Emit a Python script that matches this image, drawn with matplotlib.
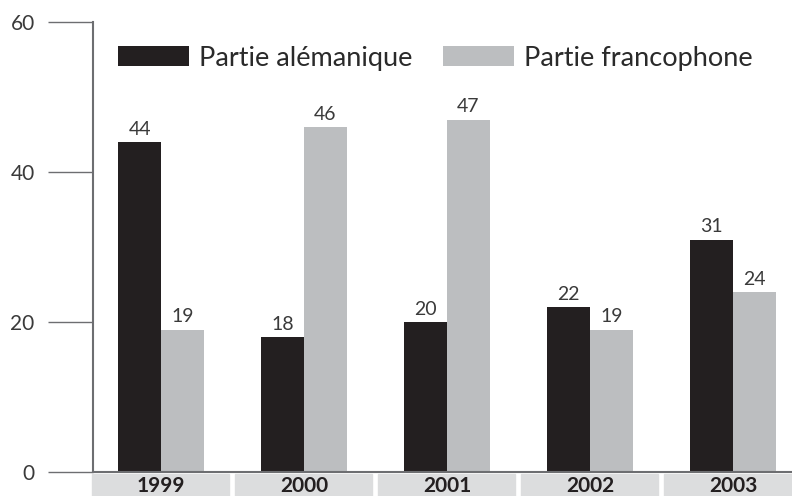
import numpy as np
import matplotlib
matplotlib.use("Agg")
import matplotlib.pyplot as plt
from matplotlib.patches import Rectangle

plt.rcParams['font.family'] = ['Lato', 'DejaVu Sans']

# data
years = ['1999', '2000', '2001', '2002', '2003']
alemanique = [44, 18, 20, 22, 31]
francophone = [19, 46, 47, 19, 24]

black = '#231f20'
grey = '#bcbec0'
box_grey = '#dcddde'
axis_col = '#6d6e71'

fig = plt.figure(figsize=(7.92, 4.96), dpi=100)
ax = fig.add_axes([93 / 792, 24 / 496, 699 / 792, 450 / 496])

x = np.arange(len(years))
w = 0.3
b1 = ax.bar(x - w / 2, alemanique, w, color=black, label='Partie alémanique')
b2 = ax.bar(x + w / 2, francophone, w, color=grey, label='Partie francophone')

# value labels
for bars, vals in [(b1, alemanique), (b2, francophone)]:
    for r, v in zip(bars, vals):
        ax.annotate(str(v), (r.get_x() + r.get_width() / 2, v), xytext=(0, 3),
                    textcoords='offset points', ha='center', va='bottom',
                    fontsize=14, color='#3a3a3a')

ax.set_ylim(0, 60)
ax.set_xlim(-0.4755, 4.413)
ax.set_yticks([0, 20, 40, 60])
ax.tick_params(axis='y', length=32.5, width=1, color=axis_col, pad=9.5,
               labelsize=15, labelcolor='#3a3a3a')
ax.set_xticks([])
for s in ['top', 'right']:
    ax.spines[s].set_visible(False)
for s in ['left', 'bottom']:
    ax.spines[s].set_color(axis_col)
    ax.spines[s].set_linewidth(1.5)

# year boxes below the axis
trans = ax.get_xaxis_transform()
for i, yr in enumerate(years):
    ax.add_patch(Rectangle((i - 0.479, -0.07), 0.958, 0.0655, transform=trans,
                           color=box_grey, clip_on=False, zorder=0))
    ax.text(i, -0.031, yr, transform=trans, ha='center', va='center',
            fontsize=15, fontweight='bold', color=black)

leg = ax.legend(loc='center left', bbox_to_anchor=(0.0358, 0.92), ncol=2,
                frameon=False, fontsize=19.5, handlelength=2.62, handleheight=0.74,
                handletextpad=0.37, columnspacing=1.14, borderpad=0, borderaxespad=0)
for t in leg.get_texts():
    t.set_color('#2a2a2a')

fig.savefig('out.png', dpi=100)
